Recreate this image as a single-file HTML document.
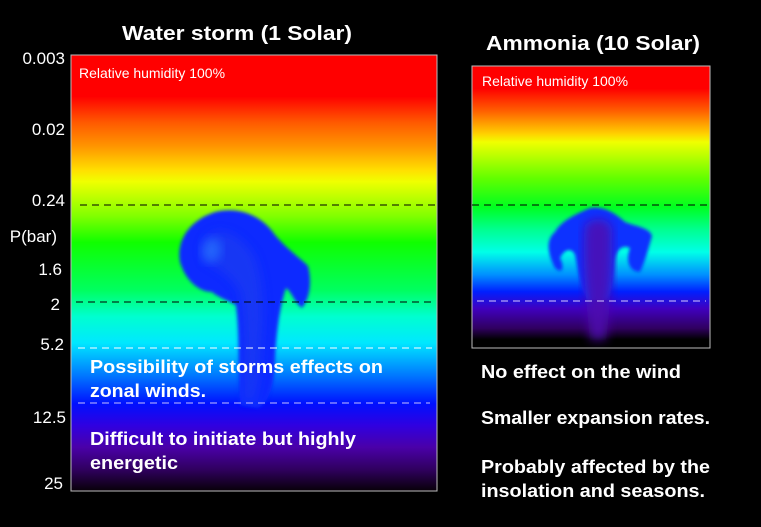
<!DOCTYPE html>
<html><head><meta charset="utf-8"><style>
html,body{margin:0;padding:0;background:#000;width:761px;height:527px;overflow:hidden}
svg{display:block}
text{font-family:"Liberation Sans",Arial,sans-serif}
</style></head><body>
<svg width="761" height="527" viewBox="0 0 761 527" xmlns="http://www.w3.org/2000/svg">
<defs>
<linearGradient id="gL" x1="0" y1="55" x2="0" y2="491" gradientUnits="userSpaceOnUse">
<stop offset="0" stop-color="#ff0000"/>
<stop offset="0.095" stop-color="#ff0000"/>
<stop offset="0.155" stop-color="#ff5a00"/>
<stop offset="0.21" stop-color="#ff9600"/>
<stop offset="0.265" stop-color="#ffe000"/>
<stop offset="0.29" stop-color="#f0ff00"/>
<stop offset="0.37" stop-color="#80ff00"/>
<stop offset="0.43" stop-color="#10ff00"/>
<stop offset="0.54" stop-color="#00ff60"/>
<stop offset="0.6" stop-color="#00ffd0"/>
<stop offset="0.66" stop-color="#00e8ff"/>
<stop offset="0.74" stop-color="#0070ff"/>
<stop offset="0.8" stop-color="#0010ff"/>
<stop offset="0.85" stop-color="#3000e0"/>
<stop offset="0.9" stop-color="#4a00a8"/>
<stop offset="0.95" stop-color="#300060"/>
<stop offset="1" stop-color="#080008"/>
</linearGradient>
<linearGradient id="gR" x1="0" y1="66" x2="0" y2="348" gradientUnits="userSpaceOnUse">
<stop offset="0" stop-color="#ff0000"/>
<stop offset="0.08" stop-color="#ff0000"/>
<stop offset="0.16" stop-color="#ff6000"/>
<stop offset="0.24" stop-color="#ffd000"/>
<stop offset="0.27" stop-color="#f0ff00"/>
<stop offset="0.4" stop-color="#60ff00"/>
<stop offset="0.5" stop-color="#00ff20"/>
<stop offset="0.58" stop-color="#00ff90"/>
<stop offset="0.66" stop-color="#00ffe8"/>
<stop offset="0.74" stop-color="#0090ff"/>
<stop offset="0.8" stop-color="#0020ff"/>
<stop offset="0.86" stop-color="#4000c0"/>
<stop offset="0.93" stop-color="#300060"/>
<stop offset="0.97" stop-color="#000000"/>
<stop offset="1" stop-color="#000000"/>
</linearGradient>
<filter id="bl" x="-20%" y="-20%" width="140%" height="140%"><feGaussianBlur stdDeviation="1.5"/></filter>
<filter id="bl2" x="-20%" y="-20%" width="140%" height="140%"><feGaussianBlur stdDeviation="5"/></filter>
<clipPath id="cL"><rect x="71" y="55" width="366" height="436"/></clipPath>
<clipPath id="cR"><rect x="472" y="66" width="238" height="282"/></clipPath>
</defs>

<text x="122" y="40" fill="#fff" font-size="20" font-weight="bold" textLength="230" lengthAdjust="spacingAndGlyphs">Water storm (1 Solar)</text>
<text x="486" y="50" fill="#fff" font-size="20" font-weight="bold" textLength="214" lengthAdjust="spacingAndGlyphs">Ammonia (10 Solar)</text>

<!-- Left panel -->
<rect x="71" y="55" width="366" height="436" fill="url(#gL)"/>
<g clip-path="url(#cL)">
<path d="M240,405 C238,370 240,335 236,305 C226,300 216,296 212,292 C200,292 186,282 180,262 C176,240 190,220 215,212 C240,206 262,216 275,235 C288,250 300,258 308,266 C312,282 310,298 302,308 C294,302 292,292 286,288 C280,305 276,335 275,360 C274,385 270,402 258,408 Z" fill="#0a2cff" filter="url(#bl)"/>
<path d="M245,400 C244,360 246,320 240,292 C232,276 218,268 206,262 C198,250 204,236 216,232 C230,230 244,240 254,256 C262,276 264,300 262,330 C260,360 258,390 252,402 Z" fill="#1a3cf0" filter="url(#bl2)" opacity="0.7"/>
<path d="M205,262 C198,250 203,238 214,238 C224,242 224,256 214,262 Z" fill="#2a80ff" filter="url(#bl2)" opacity="0.6"/>
</g>
<rect x="71" y="55" width="366" height="436" fill="none" stroke="#bbb" stroke-width="1"/>
<text x="79" y="78" fill="#fff" font-size="14" textLength="146" lengthAdjust="spacingAndGlyphs">Relative humidity 100%</text>
<line x1="80" y1="205" x2="437" y2="205" stroke="#000" stroke-dasharray="7,5" stroke-width="1"/>
<line x1="76" y1="302" x2="432" y2="302" stroke="#000" stroke-dasharray="7,5" stroke-width="1"/>
<line x1="78" y1="348" x2="432" y2="348" stroke="#fff" stroke-dasharray="7,5" stroke-width="1"/>
<line x1="78" y1="403" x2="430" y2="403" stroke="#c8c0ff" stroke-dasharray="7,5" stroke-width="1"/>

<g fill="#fff" font-size="17" text-anchor="end">
<text x="65" y="64">0.003</text>
<text x="65" y="135">0.02</text>
<text x="65" y="206">0.24</text>
<text x="57" y="242">P(bar)</text>
<text x="62" y="275">1.6</text>
<text x="60" y="310">2</text>
<text x="64" y="350">5.2</text>
<text x="66" y="423">12.5</text>
<text x="63" y="489">25</text>
</g>

<g fill="#fff" font-size="18" font-weight="bold">
<text x="90" y="373" textLength="293" lengthAdjust="spacingAndGlyphs">Possibility of storms effects on</text>
<text x="90" y="397" textLength="116" lengthAdjust="spacingAndGlyphs">zonal winds.</text>
<text x="90" y="445" textLength="266" lengthAdjust="spacingAndGlyphs">Difficult to initiate but highly</text>
<text x="90" y="469" textLength="88" lengthAdjust="spacingAndGlyphs">energetic</text>
</g>

<!-- Right panel -->
<rect x="472" y="66" width="238" height="282" fill="url(#gR)"/>
<g clip-path="url(#cR)">
<path d="M555,232 C560,222 575,214 590,208 C600,206 612,210 625,222 C635,226 650,228 652,236 C648,250 645,262 640,272 C630,272 625,262 630,248 C622,244 616,250 615,262 C614,280 612,295 605,300 L588,300 C580,290 578,270 575,255 C572,248 565,248 560,258 C565,268 562,275 555,268 C548,255 545,240 555,232 Z" fill="#1030ff" filter="url(#bl)"/>
<path d="M585,225 C595,215 610,218 612,230 C612,260 612,290 606,340 L590,340 C585,290 582,250 585,225 Z" fill="#5010b0" filter="url(#bl2)" opacity="0.85"/>
</g>
<rect x="472" y="66" width="238" height="282" fill="none" stroke="#bbb" stroke-width="1"/>
<text x="482" y="86" fill="#fff" font-size="14" textLength="146" lengthAdjust="spacingAndGlyphs">Relative humidity 100%</text>
<line x1="472" y1="205" x2="710" y2="205" stroke="#000" stroke-dasharray="7,5" stroke-width="1"/>
<line x1="477" y1="301" x2="706" y2="301" stroke="#d8c8ff" stroke-dasharray="7,5" stroke-width="1"/>

<g fill="#fff" font-size="18" font-weight="bold">
<text x="481" y="378" textLength="200" lengthAdjust="spacingAndGlyphs">No effect on the wind</text>
<text x="481" y="424" textLength="229" lengthAdjust="spacingAndGlyphs">Smaller expansion rates.</text>
<text x="481" y="473" textLength="229" lengthAdjust="spacingAndGlyphs">Probably affected by the</text>
<text x="481" y="497" textLength="224" lengthAdjust="spacingAndGlyphs">insolation and seasons.</text>
</g>
</svg>
</body></html>
